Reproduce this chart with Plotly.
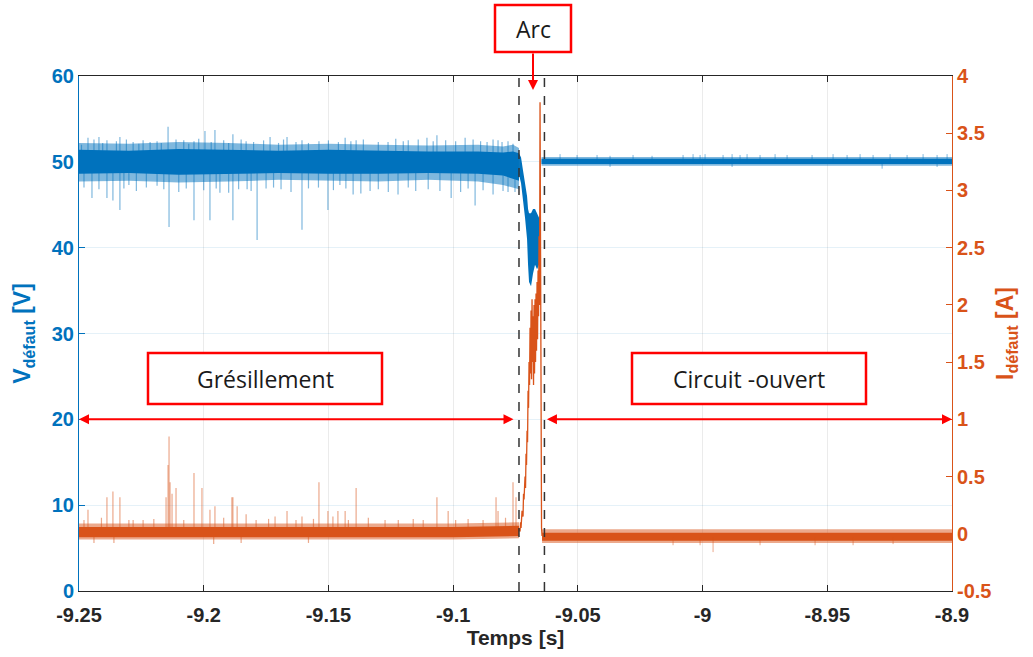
import plotly.graph_objects as go

# ---------------- data ----------------
# Voltage (left axis) – noise band envelopes (time [s], value [V])
v_band_t = [-9.25, -9.23, -9.21, -9.19, -9.17, -9.15, -9.13, -9.11, -9.09, -9.08, -9.0760, -9.0736]
v_core_hi = [51.4, 51.3, 51.5, 51.4, 51.3, 51.4, 51.3, 51.2, 51.2, 51.1, 51.2, 51.0]
v_core_lo = [48.6, 48.7, 48.5, 48.6, 48.7, 48.6, 48.6, 48.7, 48.6, 48.4, 48.0, 47.8]
v_fringe_hi = [52.2, 52.1, 52.3, 52.2, 52.0, 52.1, 52.0, 51.9, 52.0, 51.8, 52.0, 51.6]
v_fringe_lo = [47.7, 47.8, 47.6, 47.7, 47.9, 47.8, 47.7, 47.9, 47.7, 47.3, 47.0, 46.8]

v_up_t = [-9.2464, -9.2420, -9.2388, -9.2336, -9.2283, -9.2243, -9.2187, -9.2143, -9.2111, -9.2039,
          -9.1995, -9.1955, -9.1883, -9.1830, -9.1734, -9.1666, -9.1606, -9.1538, -9.1433, -9.1389,
          -9.1261, -9.1180, -9.1105, -9.1065, -9.0990, -9.0952, -9.0864, -9.0804, -9.0760,
          -9.2490, -9.2440, -9.2405, -9.2350, -9.2310, -9.2260, -9.2215, -9.2170, -9.2080, -9.2060,
          -9.2020, -9.1970, -9.1920, -9.1900, -9.1850, -9.1800, -9.1760, -9.1700, -9.1680, -9.1630,
          -9.1580, -9.1500, -9.1460, -9.1410, -9.1360, -9.1300, -9.1230, -9.1200, -9.1140, -9.1080,
          -9.1030, -9.0920, -9.0890, -9.0840, -9.0820, -9.0780]
v_up_v = [52.8, 52.9, 52.5, 52.9, 52.3, 52.5, 52.4, 54.1, 52.6, 52.4,
          53.6, 53.7, 53.2, 52.4, 52.9, 52.9, 52.5, 52.4, 52.8, 52.5,
          52.3, 52.5, 52.8, 53.1, 52.4, 52.8, 52.3, 52.3, 52.1,
          52.0, 52.6, 52.2, 52.4, 52.6, 52.1, 52.3, 52.2, 52.5, 52.1,
          52.7, 52.3, 52.5, 52.2, 52.6, 52.3, 52.5, 52.2, 52.6, 52.3,
          52.2, 52.5, 52.3, 52.4, 52.6, 52.3, 52.7, 52.4, 52.6, 52.4,
          52.5, 52.6, 52.4, 52.6, 52.5, 52.4]
v_dn_t = [-9.2448, -9.2388, -9.2364, -9.2336, -9.2300, -9.2187, -9.2139, -9.2039, -9.1975, -9.1935,
          -9.1883, -9.1826, -9.1786, -9.1690, -9.1606, -9.1502, -9.1454, -9.1401, -9.1333, -9.1221,
          -9.1053, -9.1008, -9.0912, -9.0800, -9.0752,
          -9.2480, -9.2420, -9.2320, -9.2270, -9.2230, -9.2160, -9.2100, -9.2070, -9.2000, -9.1950,
          -9.1900, -9.1860, -9.1810, -9.1750, -9.1720, -9.1650, -9.1580, -9.1540, -9.1480, -9.1430,
          -9.1370, -9.1300, -9.1260, -9.1180, -9.1150, -9.1100, -9.0970, -9.0940, -9.0880, -9.0840,
          -9.0780]
v_dn_v = [45.8, 45.8, 45.5, 44.4, 47.3, 47.2, 42.4, 43.2, 43.2, 46.4,
          43.2, 46.8, 40.9, 46.8, 42.1, 44.4, 47.3, 46.2, 46.6, 46.2,
          46.6, 45.8, 44.9, 46.6, 46.5,
          47.0, 46.8, 46.9, 46.6, 47.0, 46.8, 46.5, 46.9, 46.7, 46.9,
          46.4, 46.8, 46.6, 46.9, 47.0, 46.5, 46.9, 47.0, 46.7, 46.9,
          46.3, 46.8, 46.5, 47.0, 46.6, 46.8, 46.5, 46.9, 46.7, 46.2,
          46.5]

# Voltage during the arc (envelope)
v_arc_t = [-9.07358, -9.07278, -9.07198, -9.07118, -9.07037, -9.06997, -9.06957, -9.06877,
           -9.06797, -9.06717, -9.06636, -9.06556, -9.06496, -9.06476]
v_arc_hi = [51.0, 50.5, 49.0, 47.5, 46.0, 44.5, 44.0, 44.0, 44.5, 44.5, 44.0, 43.5, 44.0, 50.3]
v_arc_lo = [48.5, 47.5, 45.5, 43.5, 41.0, 38.0, 36.0, 35.5, 37.0, 38.0, 37.5, 38.0, 40.0, 49.7]

# Voltage in open circuit
v_oc_t = [-9.06456, -9.02, -8.98, -8.94, -8.90]
v_oc_core_hi = [50.35, 50.35, 50.35, 50.35, 50.35]
v_oc_core_lo = [49.75, 49.75, 49.75, 49.75, 49.75]
v_oc_fringe_hi = [50.55, 50.55, 50.55, 50.55, 50.55]
v_oc_fringe_lo = [49.55, 49.55, 49.55, 49.55, 49.55]
v_oc_up_t = [-9.05714, -9.05032, -9.04230, -9.03709, -9.02787, -9.02025, -9.00782, -9.00381, -9.00100,
             -8.99900, -8.99178, -8.98817, -8.98497, -8.98216, -8.97695, -8.97093, -8.96612, -8.95610,
             -8.94768, -8.94206, -8.93685, -8.93164, -8.92482, -8.91801, -8.91159, -8.90598, -8.90197]
v_oc_up_v = [50.9, 50.8, 50.8, 50.7, 50.8, 50.7, 50.8, 50.9, 50.8, 50.9, 50.8, 50.9, 50.8, 50.9,
             50.8, 50.9, 50.8, 50.8, 50.9, 50.8, 50.9, 50.8, 50.9, 50.8, 50.9, 50.8, 50.9]
v_oc_dn_t = [-9.03709, -8.98817, -8.92802, -8.90598]
v_oc_dn_v = [49.4, 49.4, 49.2, 49.4]

# Current (right axis)
i_band_t = [-9.25, -9.20, -9.15, -9.10, -9.0736]
i_core_hi = [0.06, 0.06, 0.06, 0.06, 0.07]
i_core_lo = [-0.03, -0.03, -0.03, -0.03, -0.02]
i_fringe_hi = [0.09, 0.09, 0.09, 0.09, 0.10]
i_fringe_lo = [-0.05, -0.05, -0.05, -0.05, -0.04]
i_up_t = [-9.2464, -9.2388, -9.2364, -9.2336, -9.2283, -9.2243, -9.2151, -9.2143, -9.2139, -9.2135,
          -9.2127, -9.2111, -9.2039, -9.2007, -9.1975, -9.1955, -9.1887, -9.1883, -9.1866, -9.1830,
          -9.1714, -9.1666, -9.1606, -9.1538, -9.1502, -9.1482, -9.1462, -9.1433, -9.1389, -9.1273,
          -9.1065, -9.1020, -9.0828, -9.0820, -9.0760, -9.0748,
          -9.2480, -9.2410, -9.2300, -9.2200, -9.2080, -9.1920, -9.1790, -9.1740, -9.1630, -9.1560,
          -9.1420, -9.1340, -9.1220, -9.1160, -9.1120, -9.0990, -9.0940, -9.0880, -9.0790]
i_up_v = [0.21, 0.32, 0.37, 0.32, 0.12, 0.12, 0.32, 0.60, 0.85, 0.45,
          0.35, 0.40, 0.53, 0.40, 0.21, 0.24, 0.32, 0.32, 0.24, 0.17,
          0.15, 0.20, 0.15, 0.45, 0.20, 0.15, 0.20, 0.20, 0.40, 0.12,
          0.32, 0.20, 0.32, 0.20, 0.45, 0.32,
          0.12, 0.14, 0.12, 0.13, 0.12, 0.14, 0.12, 0.13, 0.12, 0.13,
          0.12, 0.14, 0.12, 0.13, 0.12, 0.12, 0.13, 0.12, 0.14]
i_dn_t = [-9.2440, -9.2360, -9.1960, -9.1850, -9.1580]
i_dn_v = [-0.08, -0.08, -0.09, -0.08, -0.08]

i_arc_t = [-9.07358, -9.07318, -9.07298, -9.07278, -9.07238, -9.07198, -9.07178, -9.07158, -9.07118,
           -9.07098, -9.07078, -9.07058, -9.07037, -9.07017, -9.06997, -9.06977, -9.06957, -9.06937,
           -9.06917, -9.06897, -9.06877, -9.06857, -9.06837, -9.06817, -9.06797, -9.06777, -9.06757,
           -9.06737, -9.06717, -9.06697, -9.06677, -9.06657, -9.06636, -9.06616, -9.06596, -9.06576,
           -9.06556, -9.06536, -9.06516, -9.06496, -9.06476, -9.06456, -9.06436]
i_arc_v = [0.05, 0.02, 0.10, 0.05, 0.20, 0.15, 0.35, 0.30, 0.50,
           0.40, 0.70, 0.60, 0.90, 0.80, 1.25, 1.10, 1.50, 1.30,
           1.80, 1.40, 1.95, 1.35, 2.05, 1.50, 1.90, 1.30, 2.00,
           1.40, 2.05, 1.50, 2.10, 1.60, 2.20, 1.70, 2.30, 1.90,
           2.60, 2.00, 3.77, 2.20, 0.60, 0.05, -0.02]

i_oc_t = [-9.06436, -9.02, -8.98, -8.94, -8.90]
i_oc_core_hi = [0.01, 0.01, 0.01, 0.01, 0.01]
i_oc_core_lo = [-0.06, -0.06, -0.06, -0.06, -0.06]
i_oc_fringe_hi = [0.04, 0.04, 0.04, 0.04, 0.04]
i_oc_fringe_lo = [-0.08, -0.08, -0.08, -0.08, -0.08]
i_oc_dn_t = [-9.01183, -9.00100, -8.99579, -8.97695, -8.95489, -8.93966, -8.92362]
i_oc_dn_v = [-0.10, -0.10, -0.16, -0.10, -0.10, -0.10, -0.09]

# axis ticks
x_ticks = [-9.25, -9.2, -9.15, -9.1, -9.05, -9.0, -8.95, -8.9]
x_ticklabels = ["-9.25", "-9.2", "-9.15", "-9.1", "-9.05", "-9", "-8.95", "-8.9"]
v_ticks = [0, 10, 20, 30, 40, 50, 60]
i_ticks = [-0.5, 0, 0.5, 1, 1.5, 2, 2.5, 3, 3.5, 4]
i_ticklabels = ["-0.5", "0", "0.5", "1", "1.5", "2", "2.5", "3", "3.5", "4"]

arc_start, arc_end = -9.0736, -9.0634
level_arrow = 20

# ---------------- styling ----------------
BLUE = "#0072BD"
ORANGE = "#D95319"
BLUE_L = "rgba(0,114,189,0.5)"
ORANGE_L = "rgba(217,83,25,0.5)"
RED = "#FF0000"
FONT = "Liberation Sans"
BOXFONT = "Open Sans"

fig = go.Figure()


def band(t, hi, lo, color, yaxis):
    fig.add_trace(go.Scatter(x=list(t) + list(t)[::-1], y=list(hi) + list(lo)[::-1],
                             fill="toself", fillcolor=color, mode="lines",
                             line=dict(width=0), yaxis=yaxis, hoverinfo="skip",
                             showlegend=False))


def spikes(t, v, base, color, yaxis, width=1.2):
    xs, ys = [], []
    for tt, vv in zip(t, v):
        xs += [tt, tt, None]
        ys += [base, vv, None]
    fig.add_trace(go.Scatter(x=xs, y=ys, mode="lines", line=dict(color=color, width=width),
                             yaxis=yaxis, hoverinfo="skip", showlegend=False))


# Voltage
band(v_band_t, v_fringe_hi, v_fringe_lo, BLUE_L, "y")
spikes(v_up_t, v_up_v, 50, BLUE_L, "y")
spikes(v_dn_t, v_dn_v, 50, BLUE_L, "y")
band(v_band_t, v_core_hi, v_core_lo, BLUE, "y")
band(v_arc_t, v_arc_hi, v_arc_lo, BLUE, "y")
band(v_oc_t, v_oc_fringe_hi, v_oc_fringe_lo, BLUE_L, "y")
band(v_oc_t, v_oc_core_hi, v_oc_core_lo, BLUE, "y")
spikes(v_oc_up_t, v_oc_up_v, 50, BLUE_L, "y", 1)
spikes(v_oc_dn_t, v_oc_dn_v, 50, BLUE_L, "y", 1)

# Current
band(i_band_t, i_fringe_hi, i_fringe_lo, ORANGE_L, "y2")
spikes(i_up_t, i_up_v, 0.02, ORANGE_L, "y2")
spikes(i_dn_t, i_dn_v, 0.0, ORANGE_L, "y2")
band(i_band_t, i_core_hi, i_core_lo, ORANGE, "y2")
fig.add_trace(go.Scatter(x=i_arc_t, y=i_arc_v, mode="lines", line=dict(color=ORANGE, width=1.3),
                         yaxis="y2", hoverinfo="skip", showlegend=False))
band(i_oc_t, i_oc_fringe_hi, i_oc_fringe_lo, ORANGE_L, "y2")
band(i_oc_t, i_oc_core_hi, i_oc_core_lo, ORANGE, "y2")
spikes(i_oc_dn_t, i_oc_dn_v, -0.03, ORANGE_L, "y2", 1)

# ---------------- layout ----------------
W, H = 1033, 657
L, T = 79, 76
R = W - 952
B = H - 591
PW, PH = W - L - R, H - T - B


def px2paper_x(px):
    return (px - L) / PW


def py2paper_y(py):
    return (H - B - py) / PH


fig.update_layout(
    width=W, height=H, margin=dict(l=L, r=R, t=T, b=B),
    plot_bgcolor="white", paper_bgcolor="white", showlegend=False,
    xaxis=dict(range=[-9.25, -8.9], tickvals=x_ticks, ticktext=x_ticklabels,
               tickfont=dict(family=FONT, size=20, color="#262626", weight="bold"),
               ticklabelstandoff=6,
               showgrid=True, gridcolor="rgba(0,0,0,0.08)",
               showline=True, linecolor="#262626", linewidth=1, mirror="ticks",
               ticks="inside", ticklen=6, tickcolor="#262626", zeroline=False,
               title=dict(text="Temps [s]", font=dict(family=FONT, size=21, color="#262626", weight="bold"),
                          standoff=4)),
    yaxis=dict(range=[0, 60], tickvals=v_ticks, tickfont=dict(family=FONT, size=20, color=BLUE, weight="bold"),
               showgrid=True, gridcolor="rgba(0,114,189,0.10)", zeroline=False,
               showline=True, linecolor=BLUE, linewidth=1, ticks="inside", ticklen=6, tickcolor=BLUE,
               title=dict(text="V<sub>défaut</sub> [V]", font=dict(family=FONT, size=23, color=BLUE, weight="bold"),
                          standoff=14)),
    yaxis2=dict(range=[-0.5, 4], tickvals=i_ticks, ticktext=i_ticklabels, overlaying="y", side="right",
                tickfont=dict(family=FONT, size=20, color=ORANGE, weight="bold"),
                showgrid=False, zeroline=False, showline=True, linecolor=ORANGE, linewidth=1,
                ticks="inside", ticklen=6, tickcolor=ORANGE,
                title=dict(text="I<sub>défaut</sub> [A]", font=dict(family=FONT, size=23, color=ORANGE, weight="bold"),
                           standoff=6)),
)

# dashed arc limits
for xv in [arc_start, arc_end]:
    fig.add_shape(type="line", xref="x", yref="paper", x0=xv, x1=xv, y0=0, y1=1,
                  line=dict(color="#333333", width=1.5, dash="dash"))

# label boxes (pixel positions in the reference)
boxes = [("Grésillement", 148, 382, 353, 404),
         ("Circuit -ouvert", 632, 866, 353, 404),
         ("Arc", 495, 571, 5, 52)]
for text, x0, x1, y0, y1 in boxes:
    fig.add_shape(type="rect", xref="paper", yref="paper",
                  x0=px2paper_x(x0), x1=px2paper_x(x1), y0=py2paper_y(y1), y1=py2paper_y(y0),
                  line=dict(color=RED, width=2.5), fillcolor="white", layer="above")
    fig.add_annotation(xref="paper", yref="paper", x=px2paper_x((x0 + x1) / 2), y=py2paper_y((y0 + y1) / 2),
                       text=text, showarrow=False, font=dict(family=BOXFONT, size=23, color="#1a1a1a"),
                       xanchor="center", yanchor="middle")

# double arrows at 20 V
fig.add_annotation(x=-9.25, y=level_arrow, ax=-9.0752, ay=level_arrow, xref="x", yref="y",
                   axref="x", ayref="y", text="", showarrow=True, arrowhead=2, arrowside="end+start",
                   arrowsize=1, arrowwidth=2, arrowcolor=RED)
fig.add_annotation(x=-8.9, y=level_arrow, ax=-9.0630, ay=level_arrow, xref="x", yref="y",
                   axref="x", ayref="y", text="", showarrow=True, arrowhead=2, arrowside="end+start",
                   arrowsize=1, arrowwidth=2, arrowcolor=RED)
# arc arrow
fig.add_annotation(xref="paper", yref="paper", x=px2paper_x(533), y=py2paper_y(90),
                   ax=0, ay=-38, axref="pixel", ayref="pixel",
                   text="", showarrow=True, arrowhead=2, arrowsize=1, arrowwidth=2, arrowcolor=RED)

# remove the default page margin so the figure sits at the window's top-left corner
fig.write_html("out.html", config={"displayModeBar": False},
               post_script="document.body.style.margin='0';")
